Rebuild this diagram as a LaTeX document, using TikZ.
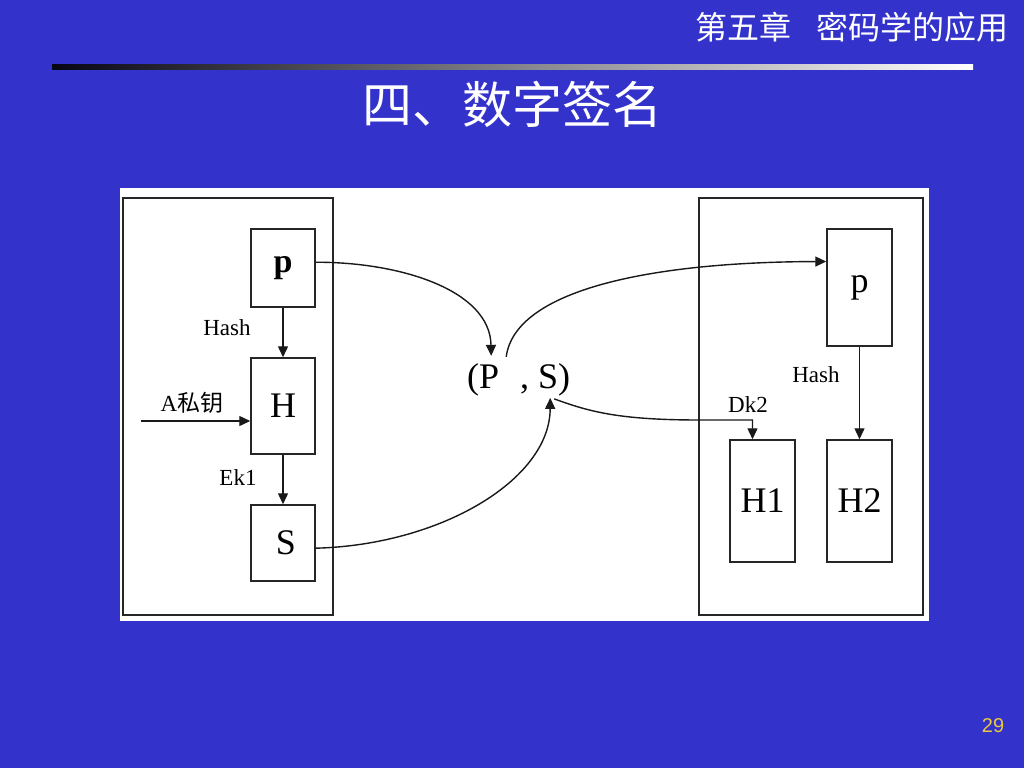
\documentclass[tikz,border=0pt]{standalone}
\usepackage{fontspec}
\setmainfont{Liberation Serif}
\newfontfamily\cjk{Noto Sans CJK SC}
\newfontfamily\numfont{Liberation Sans}
\usetikzlibrary{arrows.meta,calc}
\definecolor{slideblue}{RGB}{51,51,204}
\definecolor{pagegold}{RGB}{236,200,60}

\begin{document}
\begin{tikzpicture}[x=1pt,y=-1pt,
    box/.style={draw=black!85, line width=1.5pt, inner sep=0pt},
    big/.style={font=\fontsize{36}{40}\selectfont},
    small/.style={font=\fontsize{23}{26}\selectfont, inner sep=0pt},
    flow/.style={line width=1.4pt, draw=black!90},
    >={Triangle[length=11pt,width=10pt]}
  ]
  \fill[slideblue] (0,0) rectangle (1024,768);
  \useasboundingbox (0,0) rectangle (1024,768);
  % header and title
  \node[anchor=east, text=white, inner sep=0pt,
    font=\cjk\fontsize{32}{36}\selectfont] (chap) at (1009,27) {第五章\hspace{0.8em}密码学的应用};
  \shade[left color=black!90!slideblue, right color=white] (52,64) rectangle (973,69);
  \node[text=white, inner sep=0pt,
    font=\cjk\fontsize{50}{54}\selectfont] (title) at (512,104) {四、数字签名};
  \node[text=pagegold, inner sep=0pt,
    font=\numfont\fontsize{20}{22}\selectfont] (num) at (993,726) {29};
  % white panel and two frames
  \fill[white] (120,188) rectangle (929,621);
  \draw[box] (123,198) rectangle (333,615);
  \draw[box] (699,198) rectangle (923,615);
  % sender side
  \node[box, minimum width=64pt, minimum height=78pt,
    font=\bfseries\fontsize{34}{40}\selectfont] (p) at (283,268) {p};
  \node[box, big, minimum width=64pt, minimum height=96pt] (H) at (283,406) {H};
  \node[box, big, minimum width=64pt, minimum height=76pt] (S) at (283,543) {\hspace{6pt}S};
  \node[small] (hash1) at (227,328) {Hash};
  \node[small] (ek) at (238,478) {Ek1};
  \node[small] (key) at (192,403) {A{\cjk 私钥}};
  \coordinate (kin) at (141,421);
  \draw[flow,->] (p) -- (H);
  \draw[flow,->] (H) -- (S);
  \draw[flow,->] (kin) -- (kin -| H.west);
  % the pair
  \node[big, anchor=base west, inner sep=0pt] (Ps) at (467,388) {(P};
  \node[big, anchor=base west, inner sep=0pt] (Ss) at (520,388) {, S)};
  % receiver side
  \node[box, big, minimum width=65pt, minimum height=117pt] (p2) at (859.5,287.5) {p};
  \node[box, big, minimum width=65pt, minimum height=122pt] (H1) at (762.5,501) {H1};
  \node[box, big, minimum width=65pt, minimum height=122pt] (H2) at (859.5,501) {H2};
  \node[small] (hash2) at (816,375) {Hash};
  \node[small] (dk) at (748,405) {Dk2};
  \draw[flow,->] (p2) -- (H2);
  % curved connectors
  \draw[flow,->] (p.10) .. controls (400,262) and (490,290) .. ([xshift=8pt,yshift=7pt]Ps.north);
  \draw[flow,->] ([xshift=23pt,yshift=6pt]Ps.north) .. controls (515,290) and (650,262) .. (p2.142);
  \draw[flow,->] (S.-9) .. controls (440,545) and (550,480) .. ([xshift=5pt,yshift=-2pt]Ss.south);
  \draw[flow,->] ([xshift=9pt,yshift=-3pt]Ss.south) .. controls (590,412) and (620,420) .. (700,420)
    -| ([xshift=-10pt]H1.north);
\end{tikzpicture}
\end{document}
